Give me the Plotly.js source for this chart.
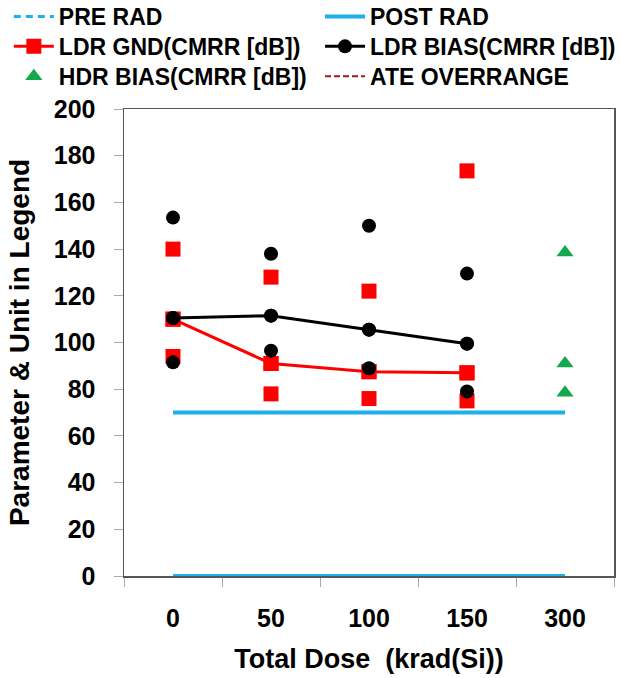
<!DOCTYPE html>
<html>
<head>
<meta charset="utf-8">
<script src="https://cdn.plot.ly/plotly-3.0.1.min.js"></script>
<style>html,body{margin:0;padding:0;background:#fff;}#chart{width:621px;height:678px;}</style>
</head>
<body>
<div id="chart"></div>
<script>
// ---- data ----
var doseCategories = ['0', '50', '100', '150', '300'];
var ldrDoses = ['0', '50', '100', '150'];
var hdrDoses = ['300', '300', '300'];

// LDR GND (CMRR [dB]) individual units and median line
var ldrGndUnit1 = [140, 128, 122, 173.5];
var ldrGndUnit2 = [110, 91, 87.5, 87];
var ldrGndUnit3 = [94, 78, 76, 75];
var ldrGndMedian = [110, 91, 87.5, 87];

// LDR BIAS (CMRR [dB]) individual units and median line
var ldrBiasUnit1 = [153.5, 138, 150, 129.5];
var ldrBiasUnit2 = [110.5, 111.5, 105.5, 99.5];
var ldrBiasUnit3 = [91.5, 96.5, 89, 79];
var ldrBiasMedian = [110.5, 111.5, 105.5, 99.5];

// HDR BIAS (CMRR [dB]) at 300 krad
var hdrBiasValues = [138.5, 91, 78.5];

// Spec limits
var limitX = ['0', '300', null, '0', '300'];
var preRadLimits = [70, 70, null, 0, 0];
var postRadLimits = [70, 70, null, 0, 0];

var xTitle = 'Total Dose  (krad(Si))';
var yTitle = 'Parameter & Unit in Legend';

// ---- styles ----
var FONT = 'Liberation Sans, Arial, sans-serif';
var blue = '#1db0ea';

function flat(a, b, c) { var r = []; for (var i = 0; i < a.length; i++) { r.push(a[i], b[i], c[i]); } return r; }
function rep(x) { var r = []; for (var i = 0; i < x.length; i++) { r.push(x[i], x[i], x[i]); } return r; }

var traces = [
  {name: 'PRE RAD', x: limitX, y: preRadLimits, mode: 'lines', connectgaps: false,
   line: {color: blue, width: 3, dash: '7px,5px'}, legend: 'legend'},
  {name: 'POST RAD', x: limitX, y: postRadLimits, mode: 'lines', connectgaps: false,
   line: {color: blue, width: 4}, legend: 'legend2'},
  {name: 'LDR GND(CMRR [dB])', x: ldrDoses, y: ldrGndMedian, mode: 'lines+markers',
   line: {color: '#ff0000', width: 3}, marker: {symbol: 'square', size: 15, color: '#ff0000'},
   legend: 'legend3'},
  {name: 'ldr gnd units', x: rep(ldrDoses), y: flat(ldrGndUnit1, ldrGndUnit2, ldrGndUnit3), mode: 'markers',
   marker: {symbol: 'square', size: 15, color: '#ff0000'}, showlegend: false},
  {name: 'LDR BIAS(CMRR [dB])', x: ldrDoses, y: ldrBiasMedian, mode: 'lines+markers',
   line: {color: '#000000', width: 3}, marker: {symbol: 'circle', size: 14, color: '#000000'},
   legend: 'legend4'},
  {name: 'ldr bias units', x: rep(ldrDoses), y: flat(ldrBiasUnit1, ldrBiasUnit2, ldrBiasUnit3), mode: 'markers',
   marker: {symbol: 'circle', size: 14, color: '#000000'}, showlegend: false},
  {name: 'HDR BIAS(CMRR [dB])', x: hdrDoses, y: hdrBiasValues, mode: 'markers',
   marker: {symbol: 'triangle-up', size: 15, color: '#12a84b'}, legend: 'legend5'},
  {name: 'ATE OVERRANGE', x: [null], y: [null], mode: 'lines',
   line: {color: '#a01818', width: 2, dash: '6px,3px'}, legend: 'legend6'}
];

var legendFont = {family: FONT, size: 23, color: '#000', weight: 'bold'};
function leg(x, y) {
  return {x: x, y: y, xanchor: 'left', yanchor: 'middle', orientation: 'v',
          font: legendFont, bgcolor: 'rgba(0,0,0,0)', itemwidth: 40};
}
var col1 = -0.235, col2 = 0.40;
var row1 = 1.198, row2 = 1.134, row3 = 1.070;

var layout = {
  width: 621, height: 678,
  margin: {l: 124, r: 7, t: 109, b: 102, autoexpand: false},
  paper_bgcolor: '#fff', plot_bgcolor: '#fff',
  showlegend: true,
  font: {family: FONT, color: '#000'},
  xaxis: {
    type: 'category', categoryorder: 'array', categoryarray: doseCategories,
    range: [-0.5, 4.5], tickson: 'boundaries', ticks: 'outside', ticklen: 9, tickcolor: '#aaa', tickwidth: 1,
    showline: true, linecolor: '#555', linewidth: 1.5, mirror: true, showgrid: false, zeroline: false,
    tickfont: {family: FONT, size: 25, weight: 'bold', color: '#000'}, ticklabelstandoff: 19,
    title: {text: xTitle, font: {family: FONT, size: 27, weight: 'bold', color: '#000'}, standoff: 18}
  },
  yaxis: {
    range: [0, 200], dtick: 20, ticks: 'outside', ticklen: 9, tickcolor: '#aaa', tickwidth: 1,
    showline: true, linecolor: '#555', linewidth: 1.5, mirror: true, showgrid: false, zeroline: false,
    tickfont: {family: FONT, size: 25, weight: 'bold', color: '#000'}, ticklabelstandoff: 13,
    title: {text: yTitle, font: {family: FONT, size: 28, weight: 'bold', color: '#000'}, standoff: 16}
  },
  legend: leg(col1, row1),
  legend2: leg(col2, row1),
  legend3: leg(col1, row2),
  legend4: leg(col2, row2),
  legend5: leg(col1, row3),
  legend6: leg(col2, row3)
};

Plotly.newPlot('chart', traces, layout, {displayModeBar: false, staticPlot: true});
</script>
</body>
</html>
